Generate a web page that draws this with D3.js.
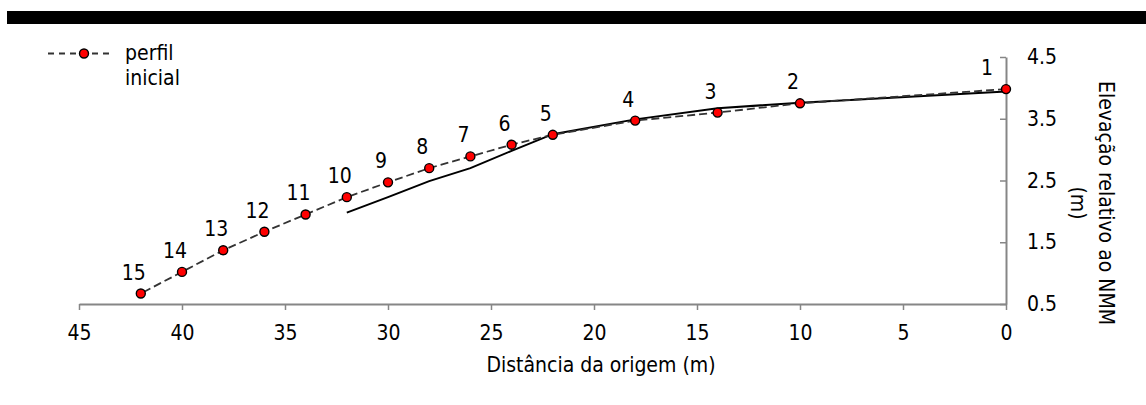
<!DOCTYPE html>
<html>
<head>
<meta charset="utf-8">
<script src="https://cdn.jsdelivr.net/npm/d3@7/dist/d3.min.js"></script>
<style>
  body { margin: 0; background: #fff; }
  svg text { font-family: "DejaVu Sans Condensed", "DejaVu Sans", sans-serif; font-stretch: condensed; fill: #000; }
</style>
</head>
<body>
<div id="chart"></div>
<script>
// perfil inicial (dashed, labelled points)
const pointLabels = [1, 2, 3, 4, 5, 6, 7, 8, 9, 10, 11, 12, 13, 14, 15];
const pointDist = [0, 10, 14, 18, 22, 24, 26, 28, 30, 32, 34, 36, 38, 40, 42];
const pointElev = [3.98, 3.75, 3.60, 3.47, 3.24, 3.08, 2.89, 2.70, 2.47, 2.23, 1.95, 1.67, 1.37, 1.02, 0.67];

// second profile (solid line, no markers)
const lineDist = [0, 10, 14, 18, 22, 24, 26, 28, 30, 32];
const lineElev = [3.94, 3.76, 3.67, 3.49, 3.25, 2.98, 2.70, 2.49, 2.23, 1.98];

const xTicks = [45, 40, 35, 30, 25, 20, 15, 10, 5, 0];
const yTicks = [0.5, 1.5, 2.5, 3.5, 4.5];

const width = 1146, height = 405;
const axisColor = "#868686";

const svg = d3.select("#chart").append("svg")
    .attr("width", width)
    .attr("height", height);

svg.append("rect").attr("width", width).attr("height", height).attr("fill", "#fff");
// black band at the top of the image
svg.append("rect").attr("x", 7).attr("y", 11).attr("width", width - 7).attr("height", 13).attr("fill", "#000");

const x = d3.scaleLinear().domain([45, 0]).range([79, 1006]);
const y = d3.scaleLinear().domain([0.5, 4.5]).range([304, 57]);

// x axis
const xAxis = svg.append("g")
    .attr("transform", "translate(0," + y(0.5) + ")")
    .call(d3.axisBottom(x).tickValues(xTicks).tickSizeInner(6).tickSizeOuter(0).tickPadding(15));
xAxis.select(".domain").attr("stroke", axisColor).attr("stroke-width", 2);
xAxis.selectAll(".tick line").attr("stroke", axisColor).attr("stroke-width", 1.5);
xAxis.selectAll(".tick text").attr("font-size", 21).attr("font-family", null);

// y axis (on the right, ticks pointing inward)
const yAxis = svg.append("g")
    .attr("transform", "translate(" + x(0) + ",0)")
    .call(d3.axisRight(y).tickValues(yTicks).tickFormat(d3.format(".1f")).tickSizeInner(-6).tickSizeOuter(0).tickPadding(21));
yAxis.select(".domain").attr("stroke", axisColor).attr("stroke-width", 2);
yAxis.selectAll(".tick line").attr("stroke", axisColor).attr("stroke-width", 1.5);
yAxis.selectAll(".tick text").attr("font-size", 21).attr("font-family", null);

// axis titles
svg.append("text")
    .attr("x", 601).attr("y", 372)
    .attr("text-anchor", "middle")
    .attr("font-size", 21)
    .text("Distância da origem (m)");

const yTitle = svg.append("g").attr("transform", "translate(1099,203) rotate(90)");
yTitle.append("text").attr("text-anchor", "middle").attr("font-size", 21).text("Elevação relativo ao NMM");
yTitle.append("text").attr("y", 28).attr("text-anchor", "middle").attr("font-size", 21).text("(m)");

// solid profile
const solid = d3.zip(lineDist, lineElev);
svg.append("path")
    .datum(solid)
    .attr("fill", "none")
    .attr("stroke", "#000")
    .attr("stroke-width", 2)
    .attr("d", d3.line().x(d => x(d[0])).y(d => y(d[1])));

// dashed profile with markers
const pts = pointLabels.map((l, i) => ({ label: l, dist: pointDist[i], elev: pointElev[i] }));
svg.append("path")
    .datum(pts)
    .attr("fill", "none")
    .attr("stroke", "#333")
    .attr("stroke-width", 1.8)
    .attr("stroke-dasharray", "8,4")
    .attr("d", d3.line().x(d => x(d.dist)).y(d => y(d.elev)));

svg.selectAll("circle.pt")
    .data(pts).enter()
    .append("circle")
    .attr("class", "pt")
    .attr("cx", d => x(d.dist))
    .attr("cy", d => y(d.elev))
    .attr("r", 4.5)
    .attr("fill", "#ff0000")
    .attr("stroke", "#000")
    .attr("stroke-width", 1.4);

svg.selectAll("text.lbl")
    .data(pts).enter()
    .append("text")
    .attr("class", "lbl")
    .attr("x", d => Math.min(x(d.dist) - 7, x(0) - 19))
    .attr("y", d => y(d.elev) - 14)
    .attr("text-anchor", "middle")
    .attr("font-size", 21)
    .text(d => d.label);

// legend
const legend = svg.append("g");
legend.append("line")
    .attr("x1", 48).attr("x2", 110).attr("y1", 53.5).attr("y2", 53.5)
    .attr("stroke", "#333").attr("stroke-width", 1.8).attr("stroke-dasharray", "6,5");
legend.append("circle")
    .attr("cx", 84).attr("cy", 53.5).attr("r", 4.5)
    .attr("fill", "#ff0000").attr("stroke", "#000").attr("stroke-width", 1.4);
legend.append("text").attr("x", 125).attr("y", 60).attr("font-size", 21).text("perfil");
legend.append("text").attr("x", 125).attr("y", 85).attr("font-size", 21).text("inicial");
</script>
</body>
</html>
